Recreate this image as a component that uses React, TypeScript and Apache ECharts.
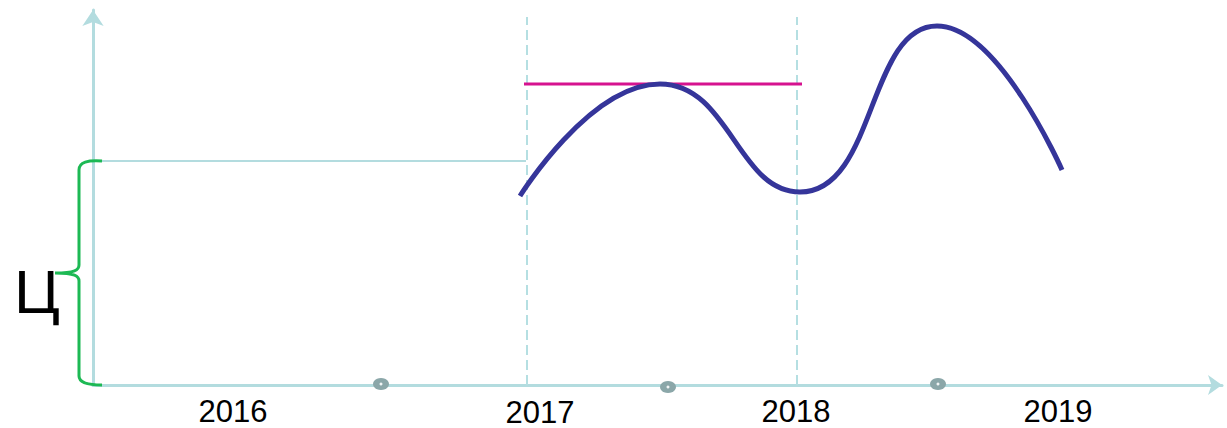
import React, { useEffect, useRef } from "react";
import * as echarts from "echarts";

// Chart units: x = horizontal position along the time axis, y = level above the axis
const yearLabels = ["2016", "2017", "2018", "2019"];
const yearLabelX = [140, 447, 703, 965];
const yearLabelY = [-26, -27, -26, -26];

const curveX = [427, 567, 707, 844, 969];
const curveY = [189, 301, 193, 359, 215];

const refLevelX = [0, 433];
const refLevelY = [224, 224];

const targetX = [431, 709];
const targetY = [301, 301];

const dashedX = [434, 704];
const dashedTop = 368;

const markerX = [288, 575, 845];
const markerY = [1, -2, 1];

const braceBottom = 0;
const braceTop = 224;

const AXIS = "#b3dcdf";

echarts.graphic.registerShape(
  "brace",
  echarts.graphic.extendPath(
    "M9,0 C-5,-1 -14,1 -14,9 L-14,104 C-14,109 -18,112 -38,112 C-18,112 -14,115 -14,120 L-14,215 C-14,221 -5,224 9,224",
    {}
  )
);

export default function App() {
  const ref = useRef<HTMLDivElement>(null);
  useEffect(() => {
    if (!ref.current) return;
    const chart = echarts.init(ref.current, null, { renderer: "svg" });
    const curve = curveX.map((x, i) => [x, curveY[i]]);
    const option: any = {
      animation: false,
      grid: { left: 93, right: 5, top: 10, bottom: 43 },
      xAxis: {
        type: "value",
        min: 0,
        max: 1129,
        axisLine: {
          show: true,
          symbol: ["none", "arrow"],
          symbolSize: [15, 14],
          lineStyle: { color: AXIS, width: 3 },
        },
        axisTick: { show: false },
        axisLabel: { show: false },
        splitLine: { show: false },
      },
      yAxis: {
        type: "value",
        min: 0,
        max: 375,
        axisLine: {
          show: true,
          symbol: ["none", "arrow"],
          symbolSize: [16, 16],
          lineStyle: { color: AXIS, width: 3 },
        },
        axisTick: { show: false },
        axisLabel: { show: false },
        splitLine: { show: false },
      },
      series: [
        {
          type: "line",
          data: refLevelX.map((x, i) => [x, refLevelY[i]]),
          symbol: "none",
          lineStyle: { color: AXIS, width: 2 },
          z: 2,
        },
        ...dashedX.map((x) => ({
          type: "line",
          data: [
            [x, 0],
            [x, dashedTop],
          ],
          symbol: "none",
          lineStyle: { color: "#b5dfe2", width: 2, type: [10, 5] },
          z: 1,
        })),
        {
          type: "line",
          data: targetX.map((x, i) => [x, targetY[i]]),
          symbol: "none",
          lineStyle: { color: "#d6128f", width: 3 },
          z: 3,
        },
        {
          type: "line",
          data: curve,
          smooth: 0.5,
          symbol: "none",
          lineStyle: { color: "#35359a", width: 5 },
          z: 4,
        },
        {
          type: "scatter",
          clip: false,
          data: markerX.map((x, i) => [x, markerY[i]]),
          symbol: "circle",
          symbolSize: [16, 12],
          itemStyle: { color: "#8ba7a9", opacity: 1 },
          z: 5,
        },
        {
          type: "scatter",
          clip: false,
          data: markerX.map((x, i) => [x, markerY[i]]),
          symbol: "circle",
          symbolSize: 3,
          itemStyle: { color: "#f2f6f6", opacity: 1 },
          z: 6,
        },
        {
          type: "scatter",
          clip: false,
          data: yearLabelX.map((x, i) => ({ value: [x, yearLabelY[i]], name: yearLabels[i] })),
          symbolSize: 1,
          itemStyle: { color: "rgba(0,0,0,0)", opacity: 1 },
          label: {
            show: true,
            position: "inside",
            formatter: (p: any) => p.name,
            color: "#000",
            textBorderWidth: 0,
            fontSize: 31,
            lineHeight: 26,
            fontFamily: "Liberation Sans, Arial, sans-serif",
          },
          z: 6,
        },
      ],
    };
    chart.setOption(option);
    const pB = chart.convertToPixel({ gridIndex: 0 }, [0, braceBottom]) as number[];
    const pT = chart.convertToPixel({ gridIndex: 0 }, [0, braceTop]) as number[];
    const h = pB[1] - pT[1];
    chart.setOption({
      graphic: [
        {
          type: "brace",
          x: pT[0],
          y: pT[1],
          scaleX: 1,
          scaleY: h / 224,
          style: { fill: "none", stroke: "#1db954", lineWidth: 3 },
          z: 10,
        },
        {
          type: "text",
          x: 37,
          y: pT[1] + h / 2 + 18,
          style: {
            text: "Ц",
            fill: "#000",
            fontSize: 62,
            fontFamily: "Liberation Sans, Arial, sans-serif",
            textAlign: "center",
            textVerticalAlign: "middle",
          },
          z: 10,
        },
      ],
    });
    return () => chart.dispose();
  }, []);
  return (
    <div
      ref={ref}
      style={{ position: "fixed", left: 0, top: 0, width: 1227, height: 428, background: "#fff" }}
    />
  );
}
